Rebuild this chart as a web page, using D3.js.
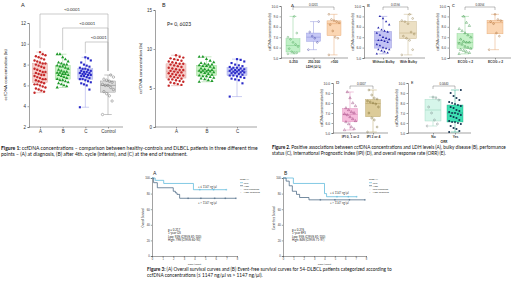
<!DOCTYPE html>
<html>
<head>
<meta charset="utf-8">
<script src="https://cdn.jsdelivr.net/npm/d3@7"></script>
<style>
  body { margin: 0; background: #fff; }
  svg { display: block; font-family: Lato, "Open Sans", sans-serif; }
</style>
</head>
<body>
<div id="chart"></div>
<script>
// ---- data (ln ccfDNA) ----
const fig1Cats = ["A", "B", "C", "Control"];
const fig1A = [5.3,5.4,5.5,5.6,5.7,5.8,5.9,6.0,6.1,6.1,6.2,6.3,6.4,6.5,6.6,6.6,6.7,6.8,6.9,7.0,7.0,7.1,7.2,7.3,7.3,7.4,7.5,7.6,7.7,7.8,7.9,8.0,8.1,8.1,8.2,8.3,8.4,8.5,8.6,8.7,8.8,8.9,9.0,9.2];
const fig1B = [5.8,5.9,6.0,6.1,6.2,6.3,6.4,6.5,6.5,6.6,6.7,6.8,6.9,7.0,7.0,7.1,7.1,7.2,7.2,7.3,7.3,7.4,7.5,7.6,7.7,7.8,7.8,7.9,8.0,8.0,8.1,8.2,8.3,8.5,8.7,9.0,9.0];
const fig1C = [3.9,5.6,6.0,6.1,6.2,6.3,6.4,6.5,6.6,6.6,6.7,6.8,6.9,6.9,7.0,7.0,7.1,7.1,7.2,7.2,7.3,7.3,7.4,7.4,7.5,7.6,7.6,7.7,7.8,7.9,8.0,8.2,8.4,8.6,8.7];
const fig1Ctrl = [3.2,4.5,5.0,5.2,5.4,5.6,5.8,6.0,6.0,6.1,6.3,6.4,6.5,6.6,6.8,7.0];
const fig1Ticks = [2, 4, 6, 8, 10, 12];
const fig1BTicks = [0, 5, 10, 15];
const fig1P = ["<0.0001", "<0.0001", "<0.0001"];

const ldhCats = ["0-250", "250-500", ">500"];
const ldhLow = [5.4,5.5,5.5,5.6,5.9,6.1,6.3,6.5,6.8,7.0,7.4,9.0];
const ldhMid = [5.8,6.5,6.9,7.1,7.5,8.5];
const ldhHigh = [5.3,6.9,7.0,7.6,8.2,8.4,8.5,8.6,8.7,9.2];
const bulkyCats = ["Without Bulky", "With Bulky"];
const bulkyNo = [5.4,5.5,5.6,5.7,5.8,5.8,5.9,6.0,6.2,6.3,6.5,6.6,6.7,6.7,6.8,6.9,7.0,7.2,7.4,7.5,7.6,7.7,7.9,8.2,8.5,8.8,9.0];
const bulkyYes = [5.3,5.8,6.7,6.9,7.1,7.3,7.5,8.3,8.5,8.6,8.8,9.2];
const ecogCats = ["ECOG < 2", "ECOG \u2265 2"];
const ecogLow = [5.4,5.5,5.6,5.7,5.8,5.9,6.0,6.1,6.3,6.4,6.5,6.5,6.6,6.8,7.0,7.2,7.4,7.6,7.8,8.1,8.4,9.0];
const ecogHigh = [5.8,7.1,7.4,8.3,8.5,8.6,8.7,9.2];
const ipiCats = ["IPI 0, 1 or 2", "IPI 3 or 4"];
const ipiLow = [5.3,5.4,5.6,5.9,6.1,6.2,6.4,6.6,6.8,6.9,7.0,7.1,7.3,7.5,7.7,8.0,8.5,9.1];
const ipiHigh = [5.1,5.6,6.3,6.5,7.0,7.6,7.9,8.0,8.1,8.2,8.4,8.5,8.8,9.3];
const orrCats = ["No", "Yes"];
const orrNo = [5.7,5.9,6.3,7.0,7.6,8.3,8.5,8.6];
const orrYes = [5.1,5.2,5.4,5.5,5.7,5.9,6.0,6.1,6.1,6.2,6.3,6.5,6.6,6.7,6.8,6.9,7.0,7.0,7.1,7.2,7.3,7.5,7.6,7.7,7.8,7.9,8.0,8.1,8.3,8.5,8.7,9.0,9.3];
const fig2Ticks = [5, 6, 7, 8, 9, 10];
const fig2P = ["0.0201", "0.0156", "0.0054", "0.0007", "0.0440"];

// Kaplan-Meier steps
const osLowT = [0, 0.3, 1.1, 3.9, 7.0];
const osLowS = [1, 0.97, 0.93, 0.85, 0.85];
const osHighT = [0, 0.15, 0.5, 2.0, 2.2, 2.35, 2.6, 7.9];
const osHighS = [1, 0.94, 0.875, 0.83, 0.81, 0.79, 0.74, 0.74];
const efsLowT = [0, 1.0, 4.0, 4.2, 7.1];
const efsLowS = [1, 0.93, 0.80, 0.76, 0.76];
const efsHighT = [0, 0.3, 0.6, 0.9, 1.3, 1.6, 2.5, 7.9];
const efsHighS = [1, 0.96, 0.90, 0.83, 0.79, 0.75, 0.72, 0.72];
const osLowCens = [4.5, 5.8, 7.0];
const osHighCens = [3.4, 4.6, 5.9, 6.9, 7.9];
const efsLowCens = [5.2, 6.3, 7.1];
const efsHighCens = [3.6, 5.0, 6.4, 7.9];
const kmXTicks = [0, 1, 2, 3, 4, 5, 6, 7, 8];
const kmYTicks = [0, 0.2, 0.4, 0.6, 0.8, 1];
const legendItems = ["Low", "High", "Low-censored", "High-censored"];

const W = 520, H = 285;
const svg = d3.select("#chart").append("svg").attr("width", W).attr("height", H);

function styleAxis(g, fs) {
  g.selectAll("path, line").attr("stroke", "#444").attr("stroke-width", 0.5);
  g.selectAll("text").attr("font-size", fs).attr("fill", "#333");
}

// generic box + dot panel
function boxPanel(o) {
  const y = d3.scaleLinear().domain(o.yDomain).range(o.yRange);
  const x = d3.scalePoint().domain(o.cats).range(o.xRange);
  const g = svg.append("g");
  const ya = g.append("g").attr("transform", `translate(${o.axisX},0)`)
    .call(d3.axisLeft(y).tickValues(o.ticks).tickSize(1.5).tickPadding(1.5));
  styleAxis(ya, o.fs);
  const xEnd = o.xRange[1] + o.bw;
  const xa = g.append("g").attr("transform", `translate(0,${o.yRange[0]})`)
    .call(d3.axisBottom(x).tickSize(1.5).tickPadding(1.5));
  xa.select(".domain").attr("d", `M${o.axisX},0H${xEnd}`);
  styleAxis(xa, o.fs);
  xa.selectAll("text").attr("font-weight", o.bold ? "bold" : "normal");

  o.series.forEach((vals, k) => {
    const s = vals.slice().sort(d3.ascending);
    const cx = x(o.cats[k]);
    const q1 = d3.quantile(s, 0.25), md = d3.quantile(s, 0.5), q3 = d3.quantile(s, 0.75);
    const lo = s[0], hi = s[s.length - 1];
    const c = o.colors[k];
    g.append("line").attr("x1", cx).attr("x2", cx).attr("y1", y(hi)).attr("y2", y(lo))
      .attr("stroke", c.line).attr("stroke-width", 0.5);
    [lo, hi].forEach(v => g.append("line").attr("x1", cx - o.bw * 0.25).attr("x2", cx + o.bw * 0.25)
      .attr("y1", y(v)).attr("y2", y(v)).attr("stroke", c.line).attr("stroke-width", 0.5));
    g.append("rect").attr("x", cx - o.bw / 2).attr("width", o.bw)
      .attr("y", y(q3)).attr("height", y(q1) - y(q3))
      .attr("fill", c.fill).attr("stroke", c.line).attr("stroke-width", 0.4);
    g.append("line").attr("x1", cx - o.bw / 2).attr("x2", cx + o.bw / 2)
      .attr("y1", y(md)).attr("y2", y(md)).attr("stroke", c.line).attr("stroke-width", 0.6);
    const sym = d3.symbol().type(c.shape).size(o.ms);
    g.selectAll(null).data(vals).enter().append("path")
      .attr("d", sym)
      .attr("transform", (d, i) => `translate(${cx + (((i * 7) % 9) - 4) * o.bw / 11},${y(d)})`)
      .attr("fill", c.hollow ? "none" : c.dot).attr("stroke", c.dot).attr("stroke-width", c.hollow ? 0.4 : 0);
  });

  // label letter
  g.append("text").attr("x", o.letter[0]).attr("y", o.letter[1]).text(o.letter[2])
    .attr("font-size", o.fs + 1).attr("fill", "#222");
  // y title
  g.append("text").attr("transform", `translate(${o.titleX},${(o.yRange[0] + o.yRange[1]) / 2}) rotate(-90)`)
    .attr("text-anchor", "middle").attr("font-size", o.fs).attr("fill", "#222")
    .text("ccfDNA concentration (ln)");
  if (o.xTitle) g.append("text").attr("x", (o.xRange[0] + o.xRange[1]) / 2).attr("y", o.yRange[0] + o.fs * 2 + 3)
    .attr("text-anchor", "middle").attr("font-size", o.fs).attr("font-weight", "bold").attr("fill", "#222").text(o.xTitle);
  // p-value bracket
  if (o.p) {
    const a = x(o.cats[0]), b = x(o.cats[o.cats.length - 1]), by = o.p.y;
    g.append("path").attr("d", `M${a},${by + 3}V${by}H${b}V${by + 3}`)
      .attr("fill", "none").attr("stroke", "#555").attr("stroke-width", 0.4);
    g.append("text").attr("x", (a + b) / 2).attr("y", by - 1.5).attr("text-anchor", "middle")
      .attr("font-size", o.fs - 0.5).attr("fill", "#333").text(o.p.text);
  }
  return {x, y, g};
}

const red = {fill: "#f6cfcc", line: "#d99a95", dot: "#c62828", shape: d3.symbolCircle};
const grn = {fill: "#c9f2c4", line: "#8fcf88", dot: "#1f9a2a", shape: d3.symbolTriangle};
const blu = {fill: "#c9ccf6", line: "#9a9fe3", dot: "#2a2ac8", shape: d3.symbolSquare};
const gry = {fill: "#dcdcdc", line: "#8a8a8a", dot: "#555", shape: d3.symbolCircle, hollow: true};

// ---- Figure 1 A ----
const f1a = boxPanel({
  cats: fig1Cats, series: [fig1A, fig1B, fig1C, fig1Ctrl], colors: [red, grn, blu, gry],
  yDomain: [2, 12], yRange: [127, 23], xRange: [40, 108], axisX: 29, ticks: fig1Ticks,
  bw: 15, fs: 4.5, ms: 4.5, letter: [21, 7, "A"], titleX: 7
});
// significance brackets vs control
[0, 1, 2].forEach(k => {
  const a = f1a.x(fig1Cats[k]), b = f1a.x("Control");
  const by = 14 + k * 14;
  const top = d3.max([fig1A, fig1B, fig1C][k]);
  f1a.g.append("path")
    .attr("d", `M${a},${f1a.y(top) - 4}V${by}H${b}V${f1a.y(d3.max(fig1Ctrl)) - 4}`)
    .attr("fill", "none").attr("stroke", "#aaa").attr("stroke-width", 0.6);
  f1a.g.append("text").attr("x", k === 0 ? 72 : (a + b) / 2 + 2).attr("y", by - 3.5)
    .attr("text-anchor", "middle").attr("font-size", 4.3).attr("fill", "#333").text(fig1P[k]);
});

// ---- Figure 1 B ----
const f1b = boxPanel({
  cats: fig1Cats.slice(0, 3), series: [fig1A, fig1B, fig1C], colors: [red, grn, blu],
  yDomain: [0, 15], yRange: [127, 10], xRange: [176, 237], axisX: 155, ticks: fig1BTicks,
  bw: 20, fs: 4.5, ms: 4.5, letter: [162, 7, "B"], titleX: 142
});
f1b.g.append("text").attr("x", 167).attr("y", 26).attr("font-size", 5).attr("fill", "#222").text("P= 0, 6023");

// ---- Figure 2 panels ----
const fs2 = 3.3;
boxPanel({
  cats: ldhCats, series: [ldhLow, ldhMid, ldhHigh],
  colors: [{fill: "#bff0c6", line: "#86cf92", dot: "#3a9a4a", shape: d3.symbolCircle, hollow: true},
           {fill: "#c6c8f6", line: "#9095dc", dot: "#333399", shape: d3.symbolCircle, hollow: true},
           {fill: "#fbd6b3", line: "#e5a670", dot: "#9a5a20", shape: d3.symbolCircle, hollow: true}],
  yDomain: [5, 10], yRange: [58, 6], xRange: [293, 334], axisX: 281, ticks: fig2Ticks,
  bw: 14, fs: fs2, ms: 2.5, letter: [291, 7, "A"], titleX: 271, xTitle: "LDH (U/L)",
  p: {y: 7, text: fig2P[0]}, bold: true
});
boxPanel({
  cats: bulkyCats, series: [bulkyNo, bulkyYes],
  colors: [{fill: "#c2c2f4", line: "#8c8cd8", dot: "#2222aa", shape: d3.symbolTriangle},
           {fill: "#ece0c4", line: "#c6b48a", dot: "#8a7440", shape: d3.symbolCircle, hollow: true}],
  yDomain: [5, 10], yRange: [58, 6], xRange: [383, 408], axisX: 364, ticks: fig2Ticks,
  bw: 17, fs: fs2, ms: 2.5, letter: [367, 7, "B"], titleX: 354,
  p: {y: 7, text: fig2P[1]}, bold: true
});
boxPanel({
  cats: ecogCats, series: [ecogLow, ecogHigh],
  colors: [{fill: "#c6f2c8", line: "#88cf8e", dot: "#2a8a3a", shape: d3.symbolTriangle, hollow: true},
           {fill: "#fbd6b3", line: "#e5a670", dot: "#9a5a20", shape: d3.symbolCircle, hollow: true}],
  yDomain: [5, 10], yRange: [58, 6], xRange: [465, 495], axisX: 449, ticks: fig2Ticks,
  bw: 16, fs: fs2, ms: 2.5, letter: [452, 7, "C"], titleX: 439,
  p: {y: 7, text: fig2P[2]}, bold: true
});
boxPanel({
  cats: ipiCats, series: [ipiLow, ipiHigh],
  colors: [{fill: "#f6bcdc", line: "#dc8ab8", dot: "#8a2a6a", shape: d3.symbolTriangle, hollow: true},
           {fill: "#dccb98", line: "#b8a46a", dot: "#6a5a20", shape: d3.symbolCircle, hollow: true}],
  yDomain: [5, 10], yRange: [133, 83], xRange: [350, 373], axisX: 333, ticks: fig2Ticks,
  bw: 15, fs: fs2, ms: 2.5, letter: [336, 84, "D"], titleX: 323,
  p: {y: 86, text: fig2P[3]}, bold: true
});
boxPanel({
  cats: orrCats, series: [orrNo, orrYes],
  colors: [{fill: "#d6f6ea", line: "#9ad6be", dot: "#6a7a7a", shape: d3.symbolCircle, hollow: true},
           {fill: "#3ee0b2", line: "#22a884", dot: "#0c2a4a", shape: d3.symbolSquare}],
  yDomain: [5, 10], yRange: [133, 83], xRange: [433, 455], axisX: 408, ticks: fig2Ticks,
  bw: 16, fs: fs2, ms: 3, letter: [411, 84, "E"], titleX: 398, xTitle: "ORR",
  p: {y: 86, text: fig2P[4]}, bold: true
});

// ---- Figure 3 Kaplan-Meier ----
function kmPanel(o) {
  const x = d3.scaleLinear().domain([0, 8]).range(o.xRange);
  const y = d3.scaleLinear().domain([0, 1]).range([256, 178]);
  const g = svg.append("g");
  const xa = g.append("g").attr("transform", "translate(0,256)")
    .call(d3.axisBottom(x).tickValues(kmXTicks).tickSize(1.2).tickPadding(0.8));
  styleAxis(xa, 2.6);
  const ya = g.append("g").attr("transform", `translate(${o.xRange[0]},0)`)
    .call(d3.axisLeft(y).tickValues(kmYTicks).tickFormat(d => d * 100).tickSize(1.2).tickPadding(1));
  styleAxis(ya, 2.8);
  const step = (T, S) => {
    let d = `M${x(T[0])},${y(S[0])}`;
    for (let i = 1; i < T.length; i++) d += `H${x(T[i])}V${y(S[i])}`;
    return d;
  };
  const lowC = "#4fb3d9", highC = "#3a5a78";
  g.append("path").attr("d", step(o.lowT, o.lowS)).attr("fill", "none")
    .attr("stroke", lowC).attr("stroke-width", 0.7);
  g.append("path").attr("d", step(o.highT, o.highS)).attr("fill", "none")
    .attr("stroke", highC).attr("stroke-width", 0.7);
  const survAt = (T, S, t) => S[d3.bisectRight(T, t) - 1];
  [[o.lowCens, o.lowT, o.lowS, lowC], [o.highCens, o.highT, o.highS, highC]].forEach(([cs, T, S, col]) => {
    g.selectAll(null).data(cs).enter().append("path")
      .attr("d", d => `M${x(d) - 0.9},${y(survAt(T, S, d))}h1.8M${x(d)},${y(survAt(T, S, d)) - 0.9}v1.8`)
      .attr("stroke", col).attr("stroke-width", 0.4);
  });
  g.append("text").attr("x", o.letterX).attr("y", 175).attr("font-size", 5).attr("fill", "#222").text(o.letter);
  g.append("text").attr("transform", `translate(${o.xRange[0] - 8},218) rotate(-90)`)
    .attr("text-anchor", "middle").attr("font-size", 2.8).attr("fill", "#333").text(o.yTitle);
  g.append("text").attr("x", (o.xRange[0] + o.xRange[1]) / 2).attr("y", 265)
    .attr("text-anchor", "middle").attr("font-size", 2.6).attr("fill", "#333").text("Time (years)");
  g.append("text").attr("x", o.lblX).attr("y", o.lblY[0]).attr("font-size", 2.8).attr("fill", "#333").text("+ \u2264 1147 ng/\u00b5l");
  g.append("text").attr("x", o.lblX).attr("y", o.lblY[1]).attr("font-size", 2.8).attr("fill", "#333").text("+ > 1147 ng/\u00b5l");
  o.stats.forEach((t, i) => g.append("text").attr("x", o.statX).attr("y", 231 + i * 3.4)
    .attr("font-size", 2.9).attr("fill", "#222").text(t));
  // legend
  const lx = o.xRange[1] + 3;
  g.append("text").attr("x", lx).attr("y", 180).attr("font-size", 2.6).attr("fill", "#333").text("ccfDNA");
  legendItems.forEach((t, i) => {
    const ly = 183.5 + i * 3;
    const col = i % 2 === 0 ? lowC : highC;
    if (i < 2) g.append("line").attr("x1", lx).attr("x2", lx + 3).attr("y1", ly - 0.8).attr("y2", ly - 0.8)
      .attr("stroke", col).attr("stroke-width", 0.6);
    else g.append("text").attr("x", lx).attr("y", ly).attr("font-size", 2.6).attr("fill", col).text("+");
    g.append("text").attr("x", lx + 3.8).attr("y", ly).attr("font-size", 2.5).attr("fill", "#333").text(t);
  });
}
kmPanel({
  xRange: [152, 237], lowT: osLowT, lowS: osLowS, highT: osHighT, highS: osHighS,
  lowCens: osLowCens, highCens: osHighCens, letter: "A", letterX: 153, yTitle: "Overall Survival",
  lblX: 198, lblY: [187.5, 203.5], statX: 168,
  stats: ["p = 0.217", "1-year OS", "Low: 92% (CI95% 81-100)", "High: 79% (CI95% 60-93)"]
});
kmPanel({
  xRange: [283, 366], lowT: efsLowT, lowS: efsLowS, highT: efsHighT, highS: efsHighS,
  lowCens: efsLowCens, highCens: efsHighCens, letter: "B", letterX: 284, yTitle: "Event-free Survival",
  lblX: 330, lblY: [193.5, 203.5], statX: 292,
  stats: ["p = 0.276", "1-year EFS", "Low: 95% (CI95% 81-100)", "High: 84% (CI95% 71-97)"]
});

// ---- captions ----
function caption(x, y, fs, bold, lines) {
  lines.forEach((ln, i) => {
    const t = svg.append("text").attr("x", x).attr("y", y + i * fs * 1.2)
      .attr("font-size", fs).attr("fill", "#111");
    if (i === 0) t.append("tspan").attr("font-weight", "bold").text(bold + " ");
    t.append("tspan").text(ln);
  });
}
caption(1, 150, 5.05, "Figure 1:", [
  "ccfDNA concentrations \u2013 comparison between healthy-controls and DLBCL patients in three different time",
  "points \u2013 (A) at diagnosis, (B) after 4th. cycle (interim), and (C) at the end of treatment."
]);
caption(272, 149, 4.7, "Figure 2.", [
  "Positive associations between ccfDNA concentrations and LDH levels (A), bulky disease (B), performance",
  "status (C), International Prognostic Index (IPI) (D), and overall response rate (ORR) (E)."
]);
caption(147, 271, 4.75, "Figure 3:", [
  "(A) Overall survival curves and (B) Event-free survival curves for 54-DLBCL patients categorized according to",
  "ccfDNA concentrations (\u2264 1147 ng/\u00b5l vs > 1147 ng/\u00b5l)."
]);
</script>
</body>
</html>
